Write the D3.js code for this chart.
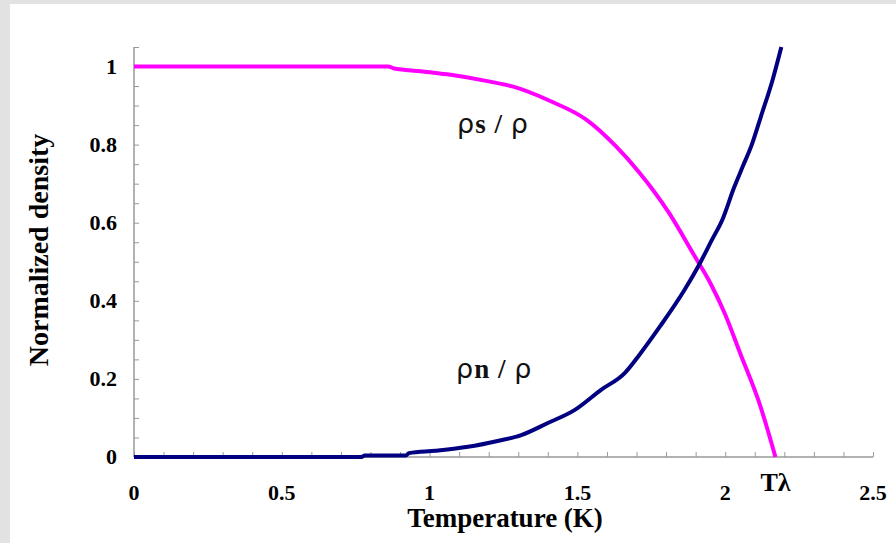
<!DOCTYPE html>
<html>
<head>
<meta charset="utf-8">
<script src="https://cdn.jsdelivr.net/npm/d3@7"></script>
<style>
  body { margin: 0; background: #e2e2e2; }
</style>
</head>
<body>
<div id="chart"></div>
<script>
// superfluid fraction (pink)
const tempS = [0, 0.86, 0.88, 0.97, 1.06, 1.2, 1.28, 1.41, 1.53, 1.63, 1.71, 1.81, 1.89, 1.95, 2.0, 2.05, 2.12, 2.17];
const rhoS = [1, 1, 0.995, 0.988, 0.98, 0.962, 0.949, 0.911, 0.864, 0.796, 0.728, 0.625, 0.523, 0.445, 0.365, 0.267, 0.128, 0];

// normal fraction (navy)
const tempN = [0, 0.77, 0.78, 0.92, 0.93, 1.02, 1.13, 1.23, 1.31, 1.40, 1.49, 1.58, 1.66, 1.71, 1.78, 1.86, 1.915, 1.955, 1.99, 2.03, 2.06, 2.09, 2.12, 2.16, 2.19];
const rhoN = [0, 0, 0.004, 0.004, 0.01, 0.016, 0.026, 0.041, 0.056, 0.087, 0.12, 0.172, 0.215, 0.262, 0.335, 0.425, 0.497, 0.556, 0.607, 0.69, 0.745, 0.80, 0.87, 0.965, 1.05];

const xTicks = [0, 0.5, 1, 1.5, 2, 2.5];
const yTicks = [0, 0.2, 0.4, 0.6, 0.8, 1];
const tLambda = 2.17;

const width = 896, height = 543;
const margin = { top: 47, right: 23, bottom: 86, left: 134 };
const serif = "'Liberation Serif', 'Times New Roman', serif";

const svg = d3.select("#chart")
  .append("svg")
  .attr("width", width)
  .attr("height", height);

// white panel
svg.append("rect")
  .attr("x", 10)
  .attr("y", 4)
  .attr("width", width - 10)
  .attr("height", height - 4)
  .attr("fill", "white");

const x = d3.scaleLinear()
  .domain([0, 2.5])
  .range([margin.left, width - margin.right]);

const y = d3.scaleLinear()
  .domain([0, 1.05])
  .range([height - margin.bottom, margin.top]);

// x axis: minor ticks every 0.1, pointing up
const xAxis = svg.append("g")
  .attr("transform", `translate(0, ${y(0)})`)
  .call(d3.axisTop(x).tickValues(d3.range(0, 26).map(i => i / 10)).tickSize(5).tickFormat(""));
xAxis.select(".domain").attr("stroke", "#999").attr("stroke-width", 1.5).attr("d", `M${x(0)},0H${x(2.5)}`);
xAxis.selectAll(".tick line").attr("stroke", "#999");

// y axis: minor ticks every 0.05, pointing right
const yAxis = svg.append("g")
  .attr("transform", `translate(${x(0)}, 0)`)
  .call(d3.axisRight(y).tickValues(d3.range(0, 22).map(i => i / 20)).tickSize(5).tickFormat(""));
yAxis.select(".domain").attr("stroke", "#999").attr("stroke-width", 1.5).attr("d", `M0,${y(0)}V${y(1.05)}`);
yAxis.selectAll(".tick line").attr("stroke", "#999");

// tick labels
svg.append("g").selectAll("text")
  .data(xTicks)
  .join("text")
  .attr("x", d => x(d))
  .attr("y", 500)
  .attr("text-anchor", "middle")
  .attr("font-family", serif)
  .attr("font-weight", "bold")
  .attr("font-size", "22px")
  .text(d => d);

svg.append("g").selectAll("text")
  .data(yTicks)
  .join("text")
  .attr("x", 117)
  .attr("y", d => y(d) + 7)
  .attr("text-anchor", "end")
  .attr("font-family", serif)
  .attr("font-weight", "bold")
  .attr("font-size", "22px")
  .text(d => d);

// T lambda marker label
svg.append("text")
  .attr("x", x(tLambda))
  .attr("y", 491)
  .attr("text-anchor", "middle")
  .attr("font-family", serif)
  .attr("font-weight", "bold")
  .attr("font-size", "26px")
  .text("Tλ");

// axis titles
svg.append("text")
  .attr("x", 505)
  .attr("y", 527)
  .attr("text-anchor", "middle")
  .attr("font-family", serif)
  .attr("font-weight", "bold")
  .attr("font-size", "27px")
  .text("Temperature (K)");

svg.append("text")
  .attr("transform", "translate(48, 250) rotate(-90)")
  .attr("text-anchor", "middle")
  .attr("font-family", serif)
  .attr("font-weight", "bold")
  .attr("font-size", "28px")
  .text("Normalized density");

// curves
const line = d3.line()
  .x(d => x(d[0]))
  .y(d => y(d[1]))
  .curve(d3.curveMonotoneX);

svg.append("path")
  .datum(d3.zip(tempS, rhoS))
  .attr("fill", "none")
  .attr("stroke", "#ff00ff")
  .attr("stroke-width", 4)
  .attr("stroke-linejoin", "round")
  .attr("d", line);

svg.append("path")
  .datum(d3.zip(tempN, rhoN))
  .attr("fill", "none")
  .attr("stroke", "#000080")
  .attr("stroke-width", 4)
  .attr("stroke-linejoin", "round")
  .attr("d", line);

// curve labels
function curveLabel(xp, yp, sub) {
  const t = svg.append("text")
    .attr("x", xp)
    .attr("y", yp)
    .attr("font-size", "27px")
    .attr("letter-spacing", "1px")
    .attr("fill", "#111");
  t.append("tspan").attr("font-family", "'DejaVu Sans', sans-serif").text("ρ");
  t.append("tspan").attr("font-family", serif).attr("font-weight", "bold").text(sub + " / ");
  t.append("tspan").attr("font-family", "'DejaVu Sans', sans-serif").text("ρ");
}
curveLabel(457, 133, "s");
curveLabel(456, 378, "n");
</script>
</body>
</html>
